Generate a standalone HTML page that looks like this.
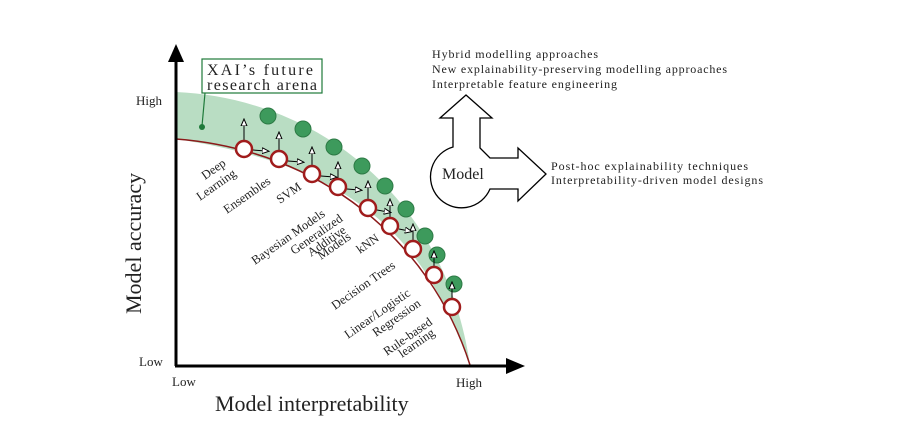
<!DOCTYPE html>
<html><head><style>body{margin:0;background:#fff}svg{display:block}text{font-family:"Liberation Serif",serif;fill:#222}</style></head><body>
<svg width="916" height="423" viewBox="0 0 916 423" xmlns="http://www.w3.org/2000/svg">
<defs><marker id="ah" markerWidth="8" markerHeight="8" refX="4" refY="4" orient="auto"><path d="M0,1 L7,4 L0,7 Z" fill="#fff" stroke="#000" stroke-width="1"/></marker></defs>
<path d="M176,92 C315,98 445,195 470,365 C430,260 380,170 176,139 Z" fill="#a8d5b4" opacity="0.8"/>
<path d="M176,139 C320,150 430,240 470,365" fill="none" stroke="#8b1a1a" stroke-width="1.5"/>
<line x1="176" y1="366" x2="176" y2="58" stroke="#000" stroke-width="3"/>
<path d="M168,62 L176,44 L184,62 Z" fill="#000"/>
<line x1="175" y1="366" x2="510" y2="366" stroke="#000" stroke-width="3"/>
<path d="M506,358 L525,366 L506,374 Z" fill="#000"/>
<g fill="#3d9a5c" stroke="#2d7a45" stroke-width="1">
<circle cx="268" cy="116" r="8"/><circle cx="303" cy="129" r="8"/><circle cx="334" cy="147" r="8"/><circle cx="362" cy="166" r="8"/><circle cx="385" cy="186" r="8"/><circle cx="406" cy="209" r="8"/><circle cx="425" cy="236" r="8"/><circle cx="437" cy="255" r="8"/><circle cx="454" cy="284" r="8"/>
</g>
<g stroke="#000" stroke-width="1" marker-end="url(#ah)">
<line x1="244" y1="140" x2="244" y2="122"/><line x1="279" y1="150" x2="279" y2="135"/><line x1="312" y1="165" x2="312" y2="150"/><line x1="338" y1="178" x2="338" y2="165"/><line x1="368" y1="199" x2="368" y2="184"/><line x1="390" y1="217" x2="390" y2="202"/><line x1="413" y1="240" x2="413" y2="227"/><line x1="434" y1="266" x2="434" y2="254"/><line x1="452" y1="298" x2="452" y2="285"/>
<line x1="253" y1="150" x2="266" y2="151"/><line x1="288" y1="161" x2="301" y2="162"/><line x1="321" y1="176" x2="334" y2="177"/><line x1="347" y1="189" x2="359" y2="190"/><line x1="377" y1="210" x2="388" y2="212"/><line x1="399" y1="229" x2="409" y2="231"/>
</g>
<g fill="#fff" stroke="#a01c1c" stroke-width="2.5">
<circle cx="244" cy="149" r="8"/><circle cx="279" cy="159" r="8"/><circle cx="312" cy="174" r="8"/><circle cx="338" cy="187" r="8"/><circle cx="368" cy="208" r="8"/><circle cx="390" cy="226" r="8"/><circle cx="413" cy="249" r="8"/><circle cx="434" cy="275" r="8"/><circle cx="452" cy="307" r="8"/>
</g>
<line x1="205" y1="93" x2="202" y2="126" stroke="#1e7a3a" stroke-width="1.2"/>
<circle cx="202" cy="127" r="3" fill="#1e7a3a"/>
<rect x="202" y="59" width="120" height="34" fill="#fff" stroke="#1e7a3a" stroke-width="1.2"/>
<text x="207" y="75" font-size="16" textLength="106">XAI’s future</text>
<text x="207" y="90" font-size="16" textLength="110">research arena</text>
<g font-size="12.5">
<text transform="translate(205,180) rotate(-35)">Deep</text>
<text transform="translate(200,201) rotate(-35)">Learning</text>
<text transform="translate(227,214) rotate(-35)">Ensembles</text>
<text transform="translate(280,204) rotate(-35)">SVM</text>
<text transform="translate(255,265) rotate(-35)">Bayesian Models</text>
<text transform="translate(294,255) rotate(-35)">Generalized</text>
<text transform="translate(311,257) rotate(-35)">Additive</text>
<text transform="translate(321,260) rotate(-35)">Models</text>
<text transform="translate(360,254) rotate(-35)">kNN</text>
<text transform="translate(335,310) rotate(-35)">Decision Trees</text>
<text transform="translate(348,339) rotate(-35)">Linear/Logistic</text>
<text transform="translate(376,337) rotate(-35)">Regression</text>
<text transform="translate(387,356) rotate(-35)">Rule-based</text>
<text transform="translate(402,358) rotate(-35)">learning</text>
</g>
<text x="136" y="105" font-size="13">High</text>
<text x="139" y="366" font-size="13">Low</text>
<text x="172" y="386" font-size="13">Low</text>
<text x="456" y="387" font-size="13">High</text>
<text x="215" y="411" font-size="22">Model interpretability</text>
<text transform="translate(141,314) rotate(-90)" font-size="22">Model accuracy</text>
<path d="M453,147 L453,118 L440,118 L466,95 L492,118 L480,118 L480,148 L490,158 L518,158 L518,148 L546,174 L518,201 L518,189 L490,189 A31,31 0 1 1 453,147 Z" fill="#fff" stroke="#000" stroke-width="1.3"/>
<text x="442" y="179" font-size="16">Model</text>
<g font-size="12">
<text x="432" y="58" textLength="166">Hybrid modelling approaches</text>
<text x="432" y="73" textLength="295">New explainability-preserving modelling approaches</text>
<text x="432" y="88" textLength="185">Interpretable feature engineering</text>
<text x="551" y="170" textLength="197">Post-hoc explainability techniques</text>
<text x="551" y="184" textLength="212">Interpretability-driven model designs</text>
</g>
</svg>
</body></html>
